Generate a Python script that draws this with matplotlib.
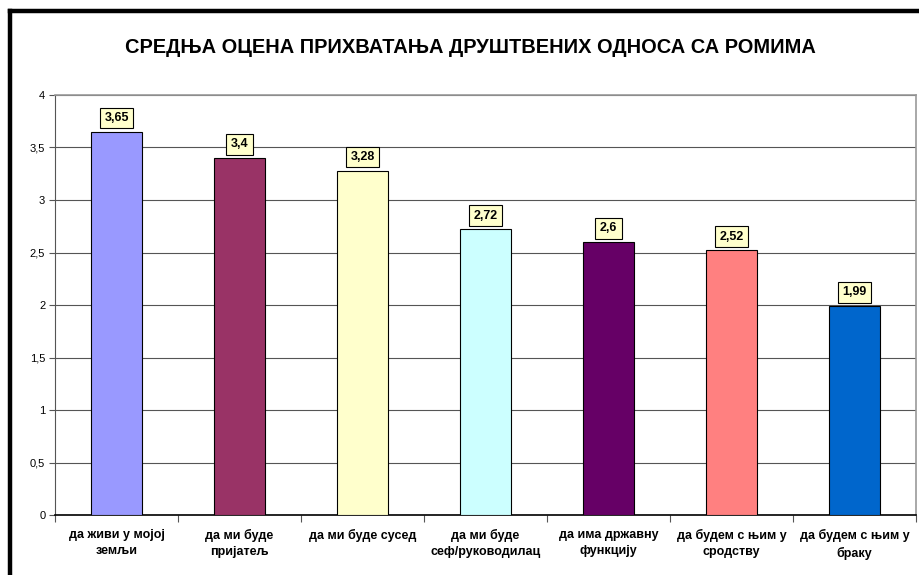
import matplotlib
matplotlib.use("Agg")
import matplotlib.pyplot as plt
from matplotlib.lines import Line2D

plt.rcParams['font.family'] = ['Liberation Sans', 'DejaVu Sans']

categories = ["да живи у мојој\nземљи", "да ми буде\nпријатељ", "да ми буде сусед",
              "да ми буде\nсеф/руководилац", "да има државну\nфункцију",
              "да будем с њим у\nсродству", "да будем с њим у\nбраку"]
values = [3.65, 3.4, 3.28, 2.72, 2.6, 2.52, 1.99]
labels = ["3,65", "3,4", "3,28", "2,72", "2,6", "2,52", "1,99"]
colors = ["#9999FF", "#993366", "#FFFFCC", "#CCFFFF", "#660066", "#FF8080", "#0066CC"]
yticks = [0, 0.5, 1, 1.5, 2, 2.5, 3, 3.5, 4]
ytick_labels = ["0", "0,5", "1", "1,5", "2", "2,5", "3", "3,5", "4"]

fig = plt.figure(figsize=(9.2, 5.75), dpi=100)
ax = fig.add_axes([0.0598, 0.1043, 0.9359, 0.7305])

x = list(range(len(values)))
ax.bar(x, values, width=0.41, color=colors, edgecolor="black", linewidth=0.8, zorder=3)

for xi, v, lab in zip(x, values, labels):
    ax.annotate(lab, (xi, v), xytext=(0, 5.5), textcoords="offset points",
                ha="center", va="bottom", fontsize=9, fontweight="bold",
                bbox=dict(boxstyle="square,pad=0.35", fc="#FFFFCC", ec="black", lw=0.8),
                zorder=4)

ax.set_xlim(-0.5, len(values) - 0.5)
ax.set_ylim(0, 4)
ax.set_yticks(yticks)
ax.set_yticklabels(ytick_labels, fontsize=8)
ax.yaxis.grid(True, color="#555555", linewidth=0.8, zorder=0)
ax.set_xticks(x)
ax.set_xticklabels(categories, fontsize=9, fontweight="bold", linespacing=1.5)
ax.tick_params(axis="x", length=0, pad=10)
ax.tick_params(axis="y", length=4, width=0.8, color="#555555", pad=3)
# category separator ticks
ax.set_xticks([i - 0.5 for i in range(len(values) + 1)], minor=True)
ax.tick_params(axis="x", which="minor", length=5, width=0.8, color="#555555")

for s in ["top", "right"]:
    ax.spines[s].set_color("#999999")
    ax.spines[s].set_linewidth(1.2)
ax.spines["left"].set_color("#555555")
ax.spines["bottom"].set_color("black")
ax.spines["bottom"].set_linewidth(1.2)

fig.text(0.511, 0.918, "СРЕДЊА ОЦЕНА ПРИХВАТАЊА ДРУШТВЕНИХ ОДНОСА СА РОМИМА",
         ha="center", va="center", fontsize=14.4, fontweight="bold")

# outer frame (top and left visible)
fig.add_artist(Line2D([10 / 920, 1.0], [1 - 11 / 575, 1 - 11 / 575], color="black", lw=3.2,
                      transform=fig.transFigure))
fig.add_artist(Line2D([10 / 920, 10 / 920], [0.0, 1 - 11 / 575], color="black", lw=3.2,
                      transform=fig.transFigure))

fig.savefig("out.png", dpi=100)
